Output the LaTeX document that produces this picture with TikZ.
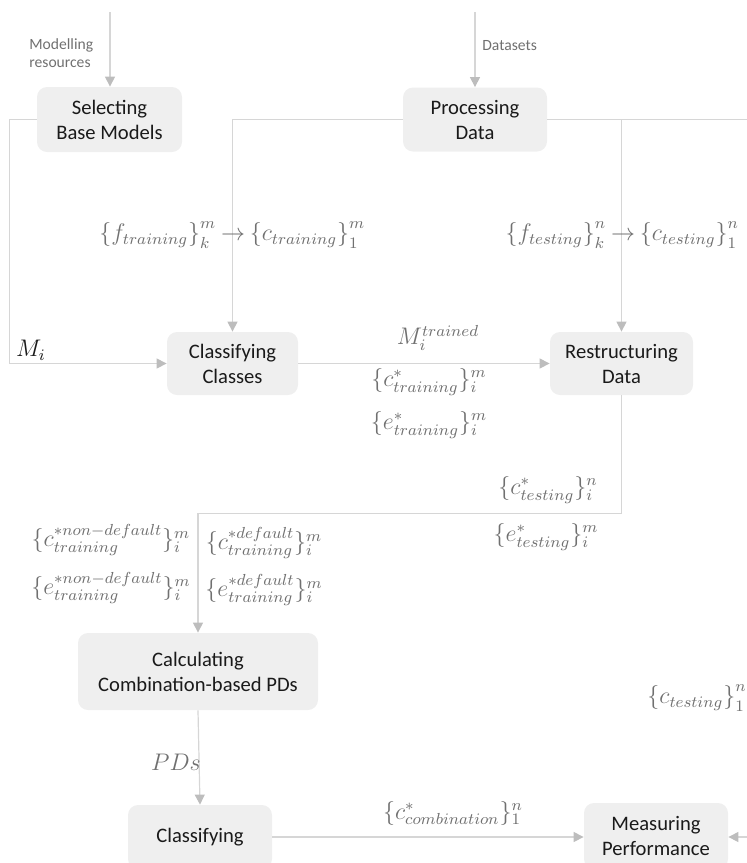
\documentclass[tikz,border=0pt]{standalone}
\usepackage{fontspec}
\setmainfont{Carlito}
\usetikzlibrary{arrows.meta}
\definecolor{boxfill}{HTML}{EFEFEF}
\definecolor{linec}{HTML}{D6D6D6}
\definecolor{arrc}{HTML}{BDBDBD}
\definecolor{lblc}{HTML}{707070}
\definecolor{boxtext}{HTML}{1A1A1A}
\tikzset{
  proc/.style={fill=boxfill, rounded corners=5pt, draw=none, align=center,
    font=\fontsize{10.3}{12.5}\selectfont, text=boxtext, inner sep=0pt},
  flow/.style={draw=linec, line width=0.6pt,
    -{Triangle[length=5pt,width=5pt,fill=arrc,color=arrc]}},
  link/.style={draw=linec, line width=0.6pt},
  lbl/.style={text=lblc, font=\fontsize{7.8}{9}\selectfont, align=left, inner sep=0pt},
  mlbl/.style={text=lblc, font=\fontsize{12}{14}\selectfont, inner sep=0pt},
}
\begin{document}
\begin{tikzpicture}[x=0.5pt,y=-0.5pt]
\useasboundingbox (0,0) rectangle (747,863);
\begin{scope}
\clip (0,0) rectangle (747,863);
% boxes
\node[proc, minimum width=72.5pt, minimum height=32.5pt] (sel) at (109.5,119.5) {Selecting\\Base Models};
\node[proc, minimum width=72pt, minimum height=32pt] (proc) at (475,119.5) {Processing\\Data};
\node[proc, minimum width=65.5pt, minimum height=31.5pt] (clsc) at (232.5,363.5) {Classifying\\Classes};
\node[proc, minimum width=71.5pt, minimum height=31.5pt] (restr) at (621.5,363.5) {Restructuring\\Data};
\node[proc, minimum width=120pt, minimum height=38.5pt] (calc) at (198,671.5) {Calculating\\Combination-based PDs};
\node[proc, minimum width=72pt, minimum height=32pt] (cls) at (200,837) {Classifying};
\node[proc, minimum width=72pt, minimum height=33pt] (meas) at (656,836) {Measuring\\Performance};

% free ends
\coordinate (topA) at (110,12);
\coordinate (topB) at (475,12);
\coordinate (redge) at (747,119.5);
\coordinate (rin) at (747,837);

% connectors
\draw[flow] (topA) -- (sel.north -| topA);
\draw[flow] (topB) -- (proc.north);
\draw[flow] (sel.west) -- ++(-27,0) |- (clsc.west);
\draw[flow] (proc.west) -| (clsc.north);
\draw[link] (proc.east) -- (redge);
\draw[flow] (proc.east) -| (restr.north);
\draw[flow] (clsc.east) -- (restr.west);
\draw[flow] (restr.south) -- ++(0,118) -| (calc.north);
\draw[flow] (calc.south) -- (cls.north);
\draw[flow] (cls.east) -- (cls.east -| meas.west);
\draw[flow] (rin) -- (meas.east |- rin);
\end{scope}

% labels
\node[lbl, anchor=west] (lres) at (29,53) {Modelling\\resources};
\node[lbl, anchor=west] (ldat) at (482,46) {Datasets};
\node[mlbl, text=boxtext] (lMi) at (31,350) {$M_i$};

\node[mlbl] (arrA) at (233,236) {$\rightarrow$};
\node[mlbl, anchor=base east, xshift=-2pt] (ftr) at (arrA.base west) {$\left\{f_{training}\right\}_k^m$};
\node[mlbl, anchor=base west, xshift=2pt] (ctr) at (arrA.base east) {$\left\{c_{training}\right\}_1^m$};

\node[mlbl] (arrB) at (623,236) {$\rightarrow$};
\node[mlbl, anchor=base east, xshift=-2pt] (fte) at (arrB.base west) {$\left\{f_{testing}\right\}_k^n$};
\node[mlbl, anchor=base west, xshift=2pt] (cte) at (arrB.base east) {$\left\{c_{testing}\right\}_1^n$};

\node[mlbl] (lMt) at (438,338) {$M_i^{trained}$};
\node[mlbl] (lctr) at (429,382) {$\{c^*_{training}\}_i^m$};
\node[mlbl] (letr) at (429,425) {$\{e^*_{training}\}_i^m$};

\node[mlbl] (lcte) at (548,490) {$\{c^*_{testing}\}_i^n$};
\node[mlbl] (lete) at (546,537) {$\{e^*_{testing}\}_i^m$};

\node[mlbl] (lcnd) at (111,540) {$\{c^{*non-default}_{training}\}_i^m$};
\node[mlbl] (lend) at (111,588) {$\{e^{*non-default}_{training}\}_i^m$};
\node[mlbl] (lcd) at (264,543) {$\{c^{*default}_{training}\}_i^m$};
\node[mlbl] (led) at (264,590) {$\{e^{*default}_{training}\}_i^m$};

\node[mlbl] (lpd) at (176,762) {$PDs$};
\node[mlbl] (lcomb) at (453,813) {$\{c^*_{combination}\}_1^n$};
\node[mlbl] (lcte2) at (697,698) {$\left\{c_{testing}\right\}_1^n$};
\end{tikzpicture}
\end{document}
